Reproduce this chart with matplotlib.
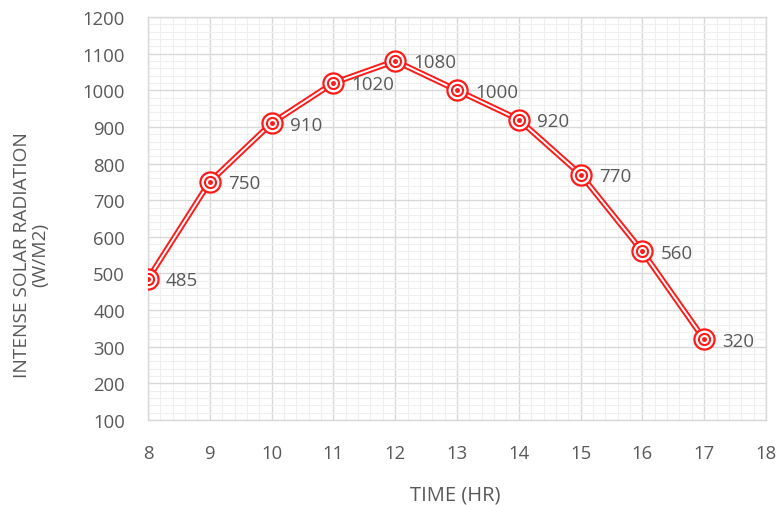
import matplotlib.pyplot as plt
from matplotlib.ticker import MultipleLocator

# hourly readings
hours = [8, 9, 10, 11, 12, 13, 14, 15, 16, 17]
radiation = [485, 750, 910, 1020, 1080, 1000, 920, 770, 560, 320]

red = '#ff1a1a'
text_grey = '#595959'

plt.rcParams['font.family'] = ['Open Sans', 'DejaVu Sans']

fig = plt.figure(figsize=(7.79, 5.06), dpi=100)
ax = fig.add_axes([148 / 779, 1 - 421 / 506, (766 - 148) / 779, (421 - 18) / 506])

ax.set_xlim(8, 18)
ax.set_ylim(100, 1200)
ax.xaxis.set_major_locator(MultipleLocator(1))
ax.xaxis.set_minor_locator(MultipleLocator(0.2))
ax.yaxis.set_major_locator(MultipleLocator(100))
ax.yaxis.set_minor_locator(MultipleLocator(20))

ax.grid(which='minor', color='#efefef', linewidth=0.8)
ax.grid(which='major', color='#d9d9d9', linewidth=1.0)
ax.set_axisbelow(True)

for side in ax.spines.values():
    side.set_color('#d9d9d9')
    side.set_linewidth(1.0)

ax.tick_params(which='both', length=0, labelsize=13.3, labelcolor=text_grey)
ax.tick_params(axis='x', pad=17)
ax.tick_params(axis='y', pad=16.5)

# compound line: red outline with a white core
ax.plot(hours, radiation, color=red, linewidth=4.2, solid_capstyle='round', zorder=3)
ax.plot(hours, radiation, color='white', linewidth=1.4, zorder=4)

# double-circle markers
ax.plot(hours, radiation, linestyle='none', marker='o', markersize=14.5,
        markerfacecolor='white', markeredgecolor=red, markeredgewidth=1.6, zorder=5)
ax.plot(hours, radiation, linestyle='none', marker='o', markersize=8,
        markerfacecolor='white', markeredgecolor=red, markeredgewidth=1.5, zorder=6)
ax.plot(hours, radiation, linestyle='none', marker='o', markersize=2.5,
        markerfacecolor=red, markeredgecolor=red, zorder=7)

for h, r in zip(hours, radiation):
    ax.annotate(str(r), (h, r), xytext=(13, -1), textcoords='offset points',
                ha='left', va='center', fontsize=13.5, color=text_grey, zorder=8)

ax.set_xlabel('TIME (HR)', fontsize=14.5, color=text_grey, va='center')
ax.xaxis.set_label_coords(0.497, -0.184)
ax.set_ylabel('INTENSE SOLAR RADIATION\n(W/M2)', fontsize=13.8, color=text_grey,
              va='center', linespacing=1.05)
ax.yaxis.set_label_coords(-0.189, 0.412)

fig.savefig('out.png', dpi=100)
